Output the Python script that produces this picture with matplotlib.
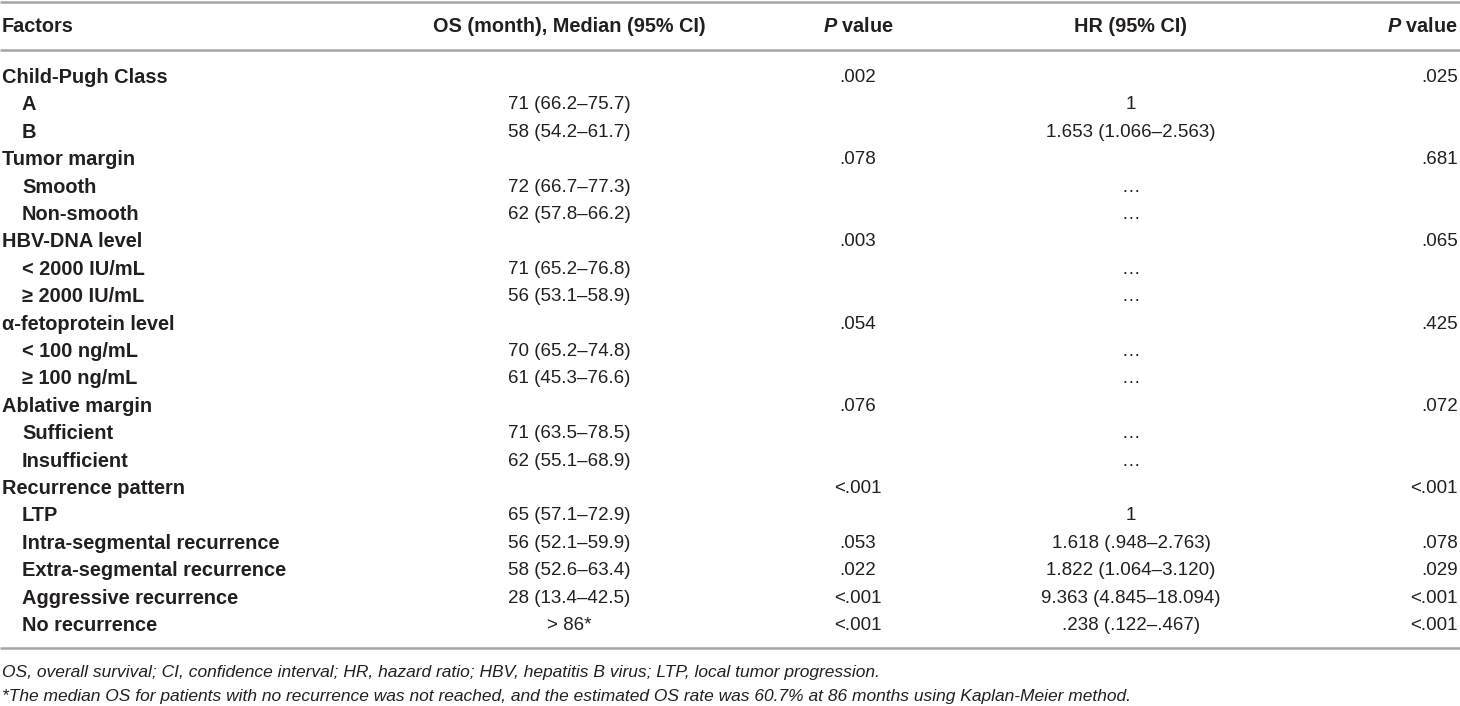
import matplotlib
matplotlib.use("Agg")
import matplotlib.pyplot as plt
from matplotlib import font_manager

# table contents
factors = ["Child-Pugh Class", "A", "B",
           "Tumor margin", "Smooth", "Non-smooth",
           "HBV-DNA level", "< 2000 IU/mL", "\u2265 2000 IU/mL",
           "\u03b1-fetoprotein level", "< 100 ng/mL", "\u2265 100 ng/mL",
           "Ablative margin", "Sufficient", "Insufficient",
           "Recurrence pattern", "LTP", "Intra-segmental recurrence",
           "Extra-segmental recurrence", "Aggressive recurrence", "No recurrence"]
sub_row = [0, 1, 1, 0, 1, 1, 0, 1, 1, 0, 1, 1, 0, 1, 1, 0, 1, 1, 1, 1, 1]
os_median = ["", "71 (66.2\u201375.7)", "58 (54.2\u201361.7)",
             "", "72 (66.7\u201377.3)", "62 (57.8\u201366.2)",
             "", "71 (65.2\u201376.8)", "56 (53.1\u201358.9)",
             "", "70 (65.2\u201374.8)", "61 (45.3\u201376.6)",
             "", "71 (63.5\u201378.5)", "62 (55.1\u201368.9)",
             "", "65 (57.1\u201372.9)", "56 (52.1\u201359.9)",
             "58 (52.6\u201363.4)", "28 (13.4\u201342.5)", "> 86*"]
p_uni = [".002", "", "", ".078", "", "", ".003", "", "", ".054", "", "",
         ".076", "", "", "<.001", "", ".053", ".022", "<.001", "<.001"]
hr_ci = ["", "1", "1.653 (1.066\u20132.563)", "", "\u2026", "\u2026",
         "", "\u2026", "\u2026", "", "\u2026", "\u2026", "", "\u2026", "\u2026",
         "", "1", "1.618 (.948\u20132.763)", "1.822 (1.064\u20133.120)",
         "9.363 (4.845\u201318.094)", ".238 (.122\u2013.467)"]
p_multi = [".025", "", "", ".681", "", "", ".065", "", "", ".425", "", "",
           ".072", "", "", "<.001", "", ".078", ".029", "<.001", "<.001"]
headers = ["Factors", "OS (month), Median (95% CI)", "$\\mathbfit{P}$ value",
           "HR (95% CI)", "$\\mathbfit{P}$ value"]
notes = ["OS, overall survival; CI, confidence interval; HR, hazard ratio; "
         "HBV, hepatitis B virus; LTP, local tumor progression.",
         "*The median OS for patients with no recurrence was not reached, and the "
         "estimated OS rate was 60.7% at 86 months using Kaplan-Meier method."]

names = {f.name for f in font_manager.fontManager.ttflist}
narrow = "Liberation Sans Narrow" if "Liberation Sans Narrow" in names else "Liberation Sans"
wide = "Liberation Sans"
ink = "#231f20"
rule = "#a6a6a6"

plt.rcParams["mathtext.fontset"] = "custom"
plt.rcParams["mathtext.it"] = "Liberation Sans:italic"
plt.rcParams["mathtext.bfit"] = "Liberation Sans:italic:bold"
plt.rcParams["mathtext.rm"] = "Liberation Sans"
plt.rcParams["mathtext.bf"] = "Liberation Sans:bold"

fig = plt.figure(figsize=(14.6, 7.06), dpi=100)
ax = fig.add_axes([0, 0, 1, 1])
ax.set_xlim(0, 1460)
ax.set_ylim(706, 0)
ax.axis("off")

# column anchors
x_fac, x_ind = 2, 22
x_os, x_p1, x_hr, x_p2 = 569, 858, 1131, 1458

for yy in (2, 50, 648):
    ax.plot([0, 1460], [yy, yy], color=rule, lw=1.8, solid_capstyle="butt")

y_head = 27
hs = 14.3
col_x = [x_fac, x_os, x_p1, x_hr, x_p2]
col_ha = ["left", "center", "center", "center", "right"]
for h, xx, ha in zip(headers, col_x, col_ha):
    ax.text(xx, y_head, h, ha=ha, va="center", fontsize=hs,
            fontweight="bold", family=wide, color=ink)

y0, dy = 77.5, 27.4
bs = 13.5
for i, name in enumerate(factors):
    y = y0 + i * dy
    ax.text(x_ind if sub_row[i] else x_fac, y, name, ha="left", va="center",
            fontsize=14.4, fontweight="bold", family=[wide, "DejaVu Sans"], color=ink)
    ax.text(x_os, y, os_median[i], ha="center", va="center", fontsize=bs,
            family=narrow, color=ink)
    ax.text(x_p1, y, p_uni[i], ha="center", va="center", fontsize=bs,
            family=narrow, color=ink)
    ax.text(x_hr, y, hr_ci[i], ha="center", va="center", fontsize=bs,
            family=narrow, color=ink)
    ax.text(x_p2, y, p_multi[i], ha="right", va="center", fontsize=bs,
            family=narrow, color=ink)

ax.text(2, 673, notes[0], ha="left", va="center", fontsize=12.5,
        style="italic", family=narrow, color=ink)
ax.text(2, 697, notes[1], ha="left", va="center", fontsize=12.5,
        style="italic", family=narrow, color=ink)

fig.savefig("out.png", dpi=100)
